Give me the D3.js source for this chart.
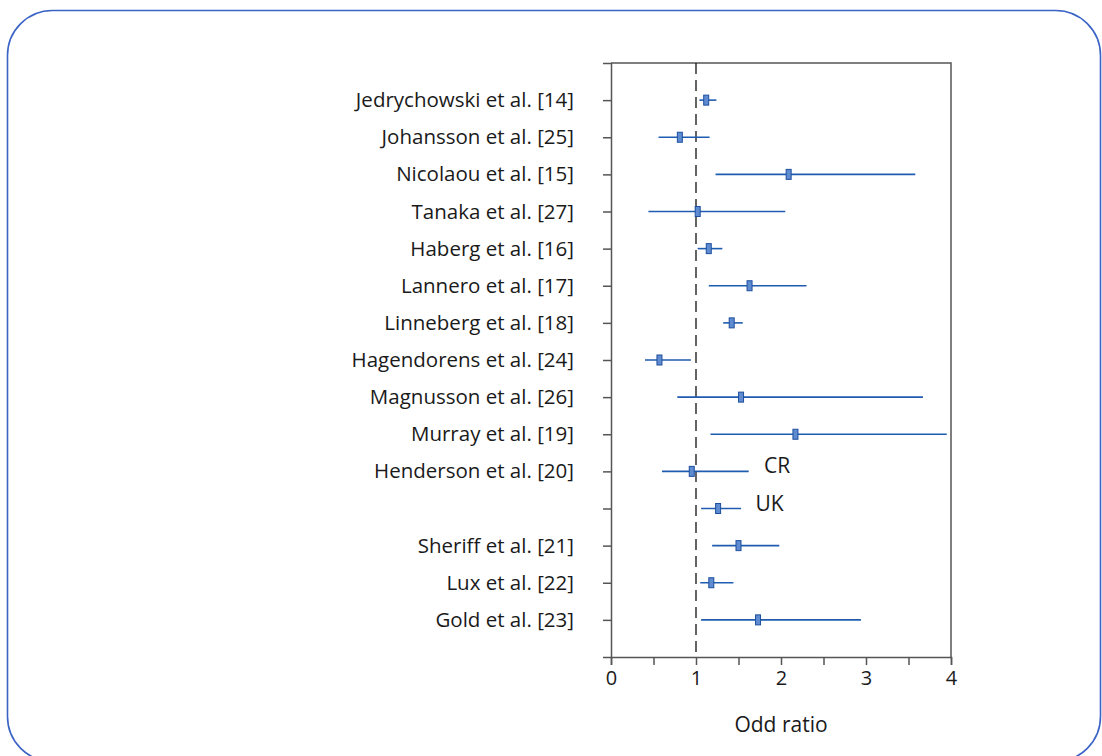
<!DOCTYPE html>
<html>
<head>
<meta charset="utf-8">
<script src="https://cdn.jsdelivr.net/npm/d3@7"></script>
<style>
    html, body { margin: 0; padding: 0; background: #fff; }
    svg { display: block; font-family: 'Open Sans', 'Noto Sans', sans-serif; }
</style>
</head>
<body>
<div id="chart"></div>
<script>
// study labels, top to bottom (the blank row is the UK pooled estimate)
var studies = [
    "Jedrychowski et al. [14]", "Johansson et al. [25]", "Nicolaou et al. [15]",
    "Tanaka et al. [27]", "Haberg et al. [16]", "Lannero et al. [17]",
    "Linneberg et al. [18]", "Hagendorens et al. [24]", "Magnusson et al. [26]",
    "Murray et al. [19]", "Henderson et al. [20]", "", "Sheriff et al. [21]",
    "Lux et al. [22]", "Gold et al. [23]"
];
// odds ratio and 95% CI
var oddRatio = [1.12, 0.81, 2.09, 1.02, 1.15, 1.63, 1.42, 0.57, 1.53, 2.17, 0.95, 1.26, 1.50, 1.18, 1.73];
var ciLow    = [1.04, 0.56, 1.23, 0.44, 1.02, 1.15, 1.32, 0.40, 0.78, 1.17, 0.60, 1.06, 1.19, 1.05, 1.06];
var ciHigh   = [1.24, 1.16, 3.58, 2.05, 1.31, 2.30, 1.55, 0.94, 3.67, 3.95, 1.62, 1.53, 1.98, 1.44, 2.94];
// text notes placed next to a row
var notes = [{ row: 10, text: "CR", x: 1.80 }, { row: 11, text: "UK", x: 1.70 }];
var xTicks = [0, 0.5, 1, 1.5, 2, 2.5, 3, 3.5, 4];
var xLabel = "Odd ratio";

var width = 1102, height = 756;
var margins = { left: 611, right: 151, top: 63, bottom: 99 };

var svg = d3.select("#chart").append("svg")
    .attr("width", width)
    .attr("height", height);

// rounded panel frame
svg.append("rect")
    .attr("x", 7.5).attr("y", 10.5)
    .attr("width", 1093).attr("height", 751)
    .attr("rx", 45).attr("ry", 45)
    .style("fill", "none")
    .style("stroke", "#3b63c6")
    .style("stroke-width", 1.6);

var plotW = width - margins.left - margins.right,
    plotH = height - margins.top - margins.bottom;

var g = svg.append("g")
    .attr("transform", "translate(" + margins.left + "," + margins.top + ")");

var x = d3.scaleLinear().domain([0, 4]).range([0, plotW]);
var y = d3.scalePoint().domain(d3.range(studies.length)).range([0, plotH]).padding(1);

var rows = studies.map(function(s, i) {
    return { label: s, or: oddRatio[i], lo: ciLow[i], hi: ciHigh[i], i: i };
});

// top and right frame lines
g.append("path")
    .attr("d", "M0,0H" + plotW + "V" + plotH)
    .style("fill", "none")
    .style("stroke", "#555")
    .style("stroke-width", 1.5);

// x axis
var xAxis = g.append("g")
    .attr("transform", "translate(0," + plotH + ")")
    .call(d3.axisBottom(x).tickValues(xTicks).tickSize(8).tickSizeOuter(8).tickPadding(6)
        .tickFormat(function(d) { return d % 1 === 0 ? d : ""; }));

// y axis
var yAxis = g.append("g")
    .call(d3.axisLeft(y).tickSize(8).tickSizeOuter(8).tickPadding(29)
        .tickFormat(function(d) { return studies[d]; }));

[xAxis, yAxis].forEach(function(a) {
    a.selectAll("path, line").style("stroke", "#555").style("stroke-width", 1.5);
    a.selectAll("text").style("fill", "#1a1a1a").style("font-family", "'Open Sans', sans-serif");
});
xAxis.selectAll("text").style("font-size", "20px");
yAxis.selectAll("text").style("font-size", "20.5px");

// reference line at OR = 1
g.append("line")
    .attr("x1", x(1)).attr("x2", x(1))
    .attr("y1", 0).attr("y2", plotH)
    .style("stroke", "#111")
    .style("stroke-width", 1.3)
    .style("stroke-dasharray", "11,6");

// confidence intervals
g.selectAll(".ci").data(rows).enter().append("line")
    .attr("class", "ci")
    .attr("x1", function(d) { return x(d.lo); })
    .attr("x2", function(d) { return x(d.hi); })
    .attr("y1", function(d) { return y(d.i); })
    .attr("y2", function(d) { return y(d.i); })
    .style("stroke", "#1f5cb0")
    .style("stroke-width", 1.6);

// point estimates
g.selectAll(".pt").data(rows).enter().append("rect")
    .attr("class", "pt")
    .attr("x", function(d) { return x(d.or) - 2.5; })
    .attr("y", function(d) { return y(d.i) - 5; })
    .attr("width", 5)
    .attr("height", 10)
    .style("fill", "#5f8bd0")
    .style("stroke", "#1d4f9e")
    .style("stroke-width", 1);

// notes
g.selectAll(".note").data(notes).enter().append("text")
    .attr("class", "note")
    .attr("x", function(d) { return x(d.x); })
    .attr("y", function(d) { return y(d.row) + 2; })
    .style("font-size", "21px")
    .style("fill", "#1a1a1a")
    .text(function(d) { return d.text; });

// axis title
g.append("text")
    .attr("x", plotW / 2)
    .attr("y", plotH + 75)
    .attr("text-anchor", "middle")
    .style("font-size", "21px")
    .style("fill", "#1a1a1a")
    .text(xLabel);
</script>
</body>
</html>
